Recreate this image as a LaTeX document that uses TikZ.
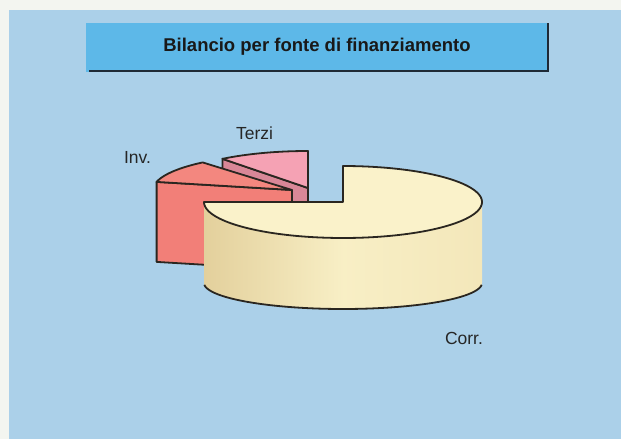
\documentclass[tikz,border=0pt]{standalone}
\usepackage{fontspec}
\setmainfont{Liberation Sans}
\definecolor{bgblue}{HTML}{ABD0E9}
\definecolor{paper}{HTML}{F3F5F0}
\definecolor{titleblue}{HTML}{5DB8E8}
\definecolor{shadowc}{HTML}{1E2A36}
\definecolor{outline}{HTML}{2A2620}
\definecolor{corrtop}{HTML}{FAF2CA}
\definecolor{corrmid}{HTML}{F3E7BA}
\definecolor{corrdark}{HTML}{E3D09C}
\definecolor{invc}{HTML}{F27F78}
\definecolor{invtop}{HTML}{F3877F}
\definecolor{terzic}{HTML}{F5A2B4}
\definecolor{terzif}{HTML}{D98797}
\begin{document}
\begin{tikzpicture}[x=1pt,y=-1pt,
  edge/.style={draw=outline,line width=1.8pt,line join=round},
  lbl/.style={font=\fontsize{17.5}{20}\selectfont,text=black!85,inner sep=0pt}]
\useasboundingbox (0,0) rectangle (621,439);
\fill[paper] (0,0) rectangle (621,439);
\fill[bgblue] (9,10) rectangle (621,439);
% title box
\fill[titleblue] (86,23) rectangle (549,72);
\draw[shadowc,line width=2.5pt] (89,71) -- (548,71) -- (548,23);
\node[font=\bfseries\fontsize{18.5}{20}\selectfont,text=black!90,inner sep=0pt] (title) at (317,47) {Bilancio per fonte di finanziamento};
% Terzi slice
\coordinate (A2) at (308,188);
\filldraw[fill=terzif,edge] (A2) -- (222.4,158.8) -- (222.4,238.8) -- (308,268) -- cycle;
\filldraw[fill=terzic,edge] (A2) -- plot[domain=232:270,samples=30] ({308+139*cos(\x)},{188+37*sin(\x)}) -- cycle;
% Inv slice
\coordinate (A1) at (292,190);
\filldraw[fill=invc,edge] (A1) -- (156.6,181.9) -- (156.6,261.9) -- (292,270) -- cycle;
\filldraw[fill=invtop,edge] (A1) -- plot[domain=193:230,samples=30] ({292+139*cos(\x)},{190+36*sin(\x)}) -- cycle;
% Corr. slice side
\shade[left color=corrdark,right color=corrmid,middle color=corrtop!70!corrmid]
  (204,202) -- (204,283) -- plot[domain=180:0,samples=80] ({343+139*cos(\x)},{283+26*sin(\x)}) -- (482,202)
  -- plot[domain=0:180,samples=80] ({343+139*cos(\x)},{202+36*sin(\x)}) -- cycle;
\draw[edge] plot[domain=176:4,samples=80] ({343+139*cos(\x)},{283+26*sin(\x)});
% Corr. top face
\coordinate (C) at (343,202);
\filldraw[fill=corrtop,edge] (C) -- (204,202) -- plot[domain=180:-90,samples=120] ({343+139*cos(\x)},{202+36*sin(\x)}) -- cycle;
% labels
\node[lbl] (inv) at (137.5,157) {Inv.};
\node[lbl] (terzi) at (254.5,133) {Terzi};
\node[lbl] (corr) at (464,338) {Corr.};
\end{tikzpicture}
\end{document}
